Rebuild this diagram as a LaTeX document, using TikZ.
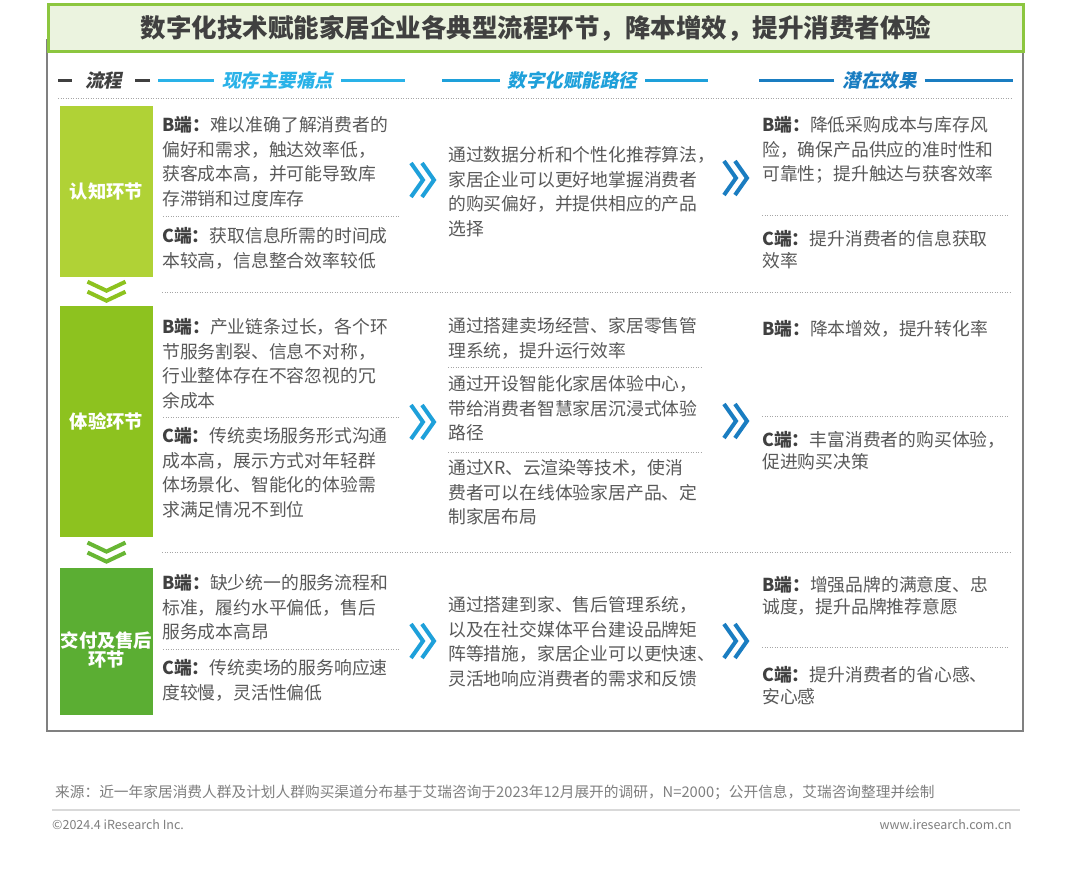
\documentclass[tikz,border=0pt]{standalone}
\usepackage{fontspec}
\setmainfont{Noto Sans CJK SC}
\newfontfamily\headfont[FakeSlant=0.2]{Noto Sans CJK SC}
\usepackage{xcolor}
\usetikzlibrary{positioning,calc}
\definecolor{leaf}{HTML}{8CC63F}
\definecolor{leafpale}{HTML}{EBF3DF}
\definecolor{stageA}{HTML}{B0D236}
\definecolor{stageB}{HTML}{8DC21F}
\definecolor{stageC}{HTML}{5BAE33}
\definecolor{chevC}{HTML}{68B634}
\definecolor{skyA}{HTML}{2AB2E8}
\definecolor{skyB}{HTML}{1EA0DA}
\definecolor{skyC}{HTML}{1A7DC1}
\definecolor{ink}{HTML}{404040}
\definecolor{bodygrey}{HTML}{595959}
\definecolor{framegrey}{HTML}{808080}
\definecolor{dotgrey}{HTML}{A6A6A6}
\definecolor{notegrey}{HTML}{7F7F7F}
\definecolor{rulegrey}{HTML}{D9D9D9}
\newcommand\side[1]{{\bfseries\color{ink}#1}}
\tikzset{titlebox/.style={draw=leaf,line width=3pt,fill=leafpale,minimum width=975pt,
  minimum height=47pt,inner sep=0pt,text=ink,font=\fontsize{25.5}{28}\selectfont\bfseries},
  stage/.style={fill=#1,text=white,minimum width=93pt,align=center,inner sep=0pt,
  font=\fontsize{18.3}{19}\selectfont\bfseries},
  txt/.style={anchor=base west,inner sep=0pt,align=left,text=bodygrey,text width=#1,
  font=\fontsize{17.8}{24.6}\selectfont},
  txt/.default=255pt,
  tight/.style={font=\fontsize{17.8}{21.8}\selectfont},
  hd/.style={inner sep=0pt,text=#1,font=\headfont\fontsize{18.5}{20}\selectfont\bfseries},
  hline/.style={line width=3pt,draw=#1},
  dotsep/.style={draw=dotgrey,line width=1pt,dash pattern=on 1pt off 1.5pt},
  note/.style={inner sep=0pt,text=notegrey},
  fwd/.pic={\draw[line width=4pt,draw=#1] (-12,-17)--(0,0)--(-12,17) (-1,-17)--(11,0)--(-1,17);},
  dwn/.pic={\draw[line width=4pt,draw=#1] (-19,-10)--(0,-1)--(19,-10) (-19,0)--(0,9)--(19,0);}}
\begin{document}
\begin{tikzpicture}[x=1pt,y=-1pt]
\fill[white] (0,0) rectangle (1080,881);
\useasboundingbox (0,0) rectangle (1080,881);
\draw[framegrey,line width=2pt] (47,40) rectangle (1023,731);
\node[titlebox] (title) at (536,28) {数字化技术赋能家居企业各典型流程环节，降本增效，提升消费者体验};

\node[hd=ink] (h0) at (103.5,80) {流程};
\node[hd=skyA] (h1) at (277.5,80) {现存主要痛点};
\node[hd=skyB] (h2) at (572.5,80) {数字化赋能路径};
\node[hd=skyC] (h3) at (879.5,80) {潜在效果};
\draw[hline=ink] ([xshift=-13pt]h0.west) -- ++(-14,0);
\draw[hline=ink] ([xshift=13pt]h0.east) -- ++(15,0);
\draw[hline=skyA] ([xshift=-8pt]h1.west) -- ++(-56,0);
\draw[hline=skyA] ([xshift=8pt]h1.east) -- ++(64,0);
\draw[hline=skyB] ([xshift=-8pt]h2.west) -- ++(-58,0);
\draw[hline=skyB] ([xshift=8pt]h2.east) -- ++(63,0);
\draw[hline=skyC] ([xshift=-8pt]h3.west) -- ++(-75,0);
\draw[hline=skyC] ([xshift=8pt]h3.east) -- ++(88,0);
\draw[dotsep] (58,98) -- (1012,98);

\node[stage=stageA,minimum height=171pt] (s1) at (106.5,191.5) {认知环节};
\node[stage=stageB,minimum height=231pt,below=29pt of s1] (s2) {体验环节};
\node[stage=stageC,minimum height=147pt,below=30pt of s2] (s3) {};
\node[stage=stageC] (s3t) at ($(s3.center)+(0,8.5)$) {交付及售后\\环节};
\pic at ($(s1.south)!0.5!(s2.north)$) {dwn=stageB};
\pic at ($(s2.south)!0.5!(s3.north)$) {dwn=chevC};

\draw[dotsep] (162,292) -- (1012,292);
\draw[dotsep] (162,552) -- (1012,552);

\node[txt] (p1b) at (162,131.5) {\side{B端：}难以准确了解消费者的\\偏好和需求，触达效率低，\\获客成本高，并可能导致库\\存滞销和过度库存};
\node[txt] (p1c) at (162,242.5) {\side{C端：}获取信息所需的时间成\\本较高，信息整合效率较低};
\node[txt] (p2b) at (162,333.5) {\side{B端：}产业链条过长，各个环\\节服务割裂、信息不对称，\\行业整体存在不容忽视的冗\\余成本};
\node[txt] (p2c) at (162,442.5) {\side{C端：}传统卖场服务形式沟通\\成本高，展示方式对年轻群\\体场景化、智能化的体验需\\求满足情况不到位};
\node[txt] (p3b) at (162,589.5) {\side{B端：}缺少统一的服务流程和\\标准，履约水平偏低，售后\\服务成本高昂};
\node[txt] (p3c) at (162,674.5) {\side{C端：}传统卖场的服务响应速\\度较慢，灵活性偏低};
\draw[dotsep] (163,216.5) -- (399,216.5);
\draw[dotsep] (163,417) -- (399,417);
\draw[dotsep] (163,649) -- (399,649);

\node[txt=275pt] (m1) at (448,161.5) {通过数据分析和个性化推荐算法，\\家居企业可以更好地掌握消费者\\的购买偏好，并提供相应的产品\\选择};
\node[txt=275pt] (m2a) at (448,332.5) {通过搭建卖场经营、家居零售管\\理系统，提升运行效率};
\node[txt=275pt] (m2b) at (448,390.5) {通过开设智能化家居体验中心，\\带给消费者智慧家居沉浸式体验\\路径};
\node[txt=275pt] (m2c) at (448,474.5) {通过XR、云渲染等技术，使消\\费者可以在线体验家居产品、定\\制家居布局};
\node[txt=275pt] (m3) at (448,611.5) {通过搭建到家、售后管理系统，\\以及在社交媒体平台建设品牌矩\\阵等措施，家居企业可以更快速、\\灵活地响应消费者的需求和反馈};
\draw[dotsep] (448,367) -- (703,367);
\draw[dotsep] (448,452) -- (703,452);

\node[txt] (e1b) at (762,131.5) {\side{B端：}降低采购成本与库存风\\险，确保产品供应的准时性和\\可靠性；提升触达与获客效率};
\node[txt,tight] (e1c) at (762,245.5) {\side{C端：}提升消费者的信息获取\\效率};
\node[txt,tight] (e2b) at (762,335.5) {\side{B端：}降本增效，提升转化率};
\node[txt,tight] (e2c) at (762,446.5) {\side{C端：}丰富消费者的购买体验，\\促进购买决策};
\node[txt,tight] (e3b) at (762,591.5) {\side{B端：}增强品牌的满意度、忠\\诚度，提升品牌推荐意愿};
\node[txt,tight] (e3c) at (762,681.5) {\side{C端：}提升消费者的省心感、\\安心感};
\draw[dotsep] (762,215) -- (1008,215);
\draw[dotsep] (762,416) -- (1008,416);
\draw[dotsep] (762,647) -- (1008,647);

\pic at (423,180) {fwd=skyB};
\pic at (423,422) {fwd=skyB};
\pic at (423,641) {fwd=skyB};
\pic at (736,178) {fwd=skyC};
\pic at (736,421) {fwd=skyC};
\pic at (736,641) {fwd=skyC};

\node[note,anchor=west,font=\fontsize{14.7}{16}\selectfont] (src) at (55,792) {来源：近一年家居消费人群及计划人群购买渠道分布基于艾瑞咨询于2023年12月展开的调研，N=2000；公开信息，艾瑞咨询整理并绘制};
\draw[rulegrey,line width=2.5pt] (52,810) -- (1020,810);
\node[note,anchor=west,font=\fontsize{12.5}{14}\selectfont] (copy) at (52,825) {©2024.4 iResearch Inc.};
\node[note,anchor=east,font=\fontsize{12.5}{14}\selectfont] (web) at (1012,825) {www.iresearch.com.cn};
\end{tikzpicture}
\end{document}
